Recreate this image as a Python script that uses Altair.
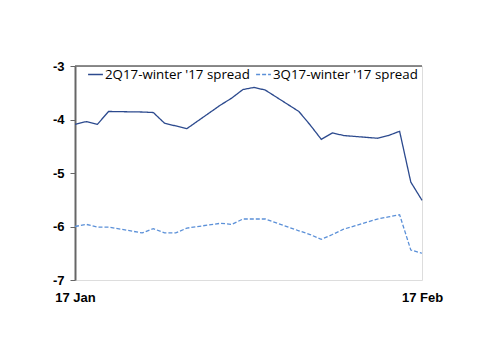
import altair as alt
import pandas as pd

dates = ["2017/01/17", "2017/01/18", "2017/01/19", "2017/01/20", "2017/01/23",
         "2017/01/24", "2017/01/25", "2017/01/26", "2017/01/27", "2017/01/30",
         "2017/01/31", "2017/02/01", "2017/02/02", "2017/02/03", "2017/02/06",
         "2017/02/07", "2017/02/08", "2017/02/09", "2017/02/10", "2017/02/13",
         "2017/02/14", "2017/02/15", "2017/02/16", "2017/02/17"]
s2q = [-4.09, -4.04, -4.09, -3.85, -3.86, -3.87, -4.07, -4.12, -4.17, -3.73,
       -3.60, -3.44, -3.40, -3.45, -3.85, -4.10, -4.37, -4.25, -4.30, -4.35,
       -4.30, -4.22, -5.17, -5.51]
s3q = [-6.00, -5.96, -6.01, -6.01, -6.12, -6.04, -6.12, -6.12, -6.03, -5.94,
       -5.96, -5.86, -5.86, -5.86, -6.08, -6.15, -6.24, -6.15, -6.05, -5.86,
       -5.82, -5.78, -6.44, -6.50]
series = ["2Q17-winter '17 spread", "3Q17-winter '17 spread"]
x_ticks = ["2017/01/17", "2017/02/17"]
y_domain = [-7, -3]
y_ticks = [-7, -6, -5, -4, -3]

rows = []
for d, a, b in zip(dates, s2q, s3q):
    rows.append({"date": d, "value": a, "series": series[0]})
    rows.append({"date": d, "value": b, "series": series[1]})
df = pd.DataFrame(rows)

FONT = "Liberation Sans"

y_axis = alt.Axis(values=y_ticks, title=None, grid=False,
                  labelExpr="replace(datum.label, '\u2212', '-')",
                  domainColor="#666", domainWidth=2, tickColor="#666",
                  tickSize=5, labelPadding=6, labelFont=FONT, labelFontSize=13,
                  labelFontWeight="bold", labelColor="#000")
y_scale = alt.Scale(domain=y_domain, nice=False, zero=False)

x_enc = alt.X("date:T", scale=alt.Scale(domain=[x_ticks[0], x_ticks[1]]),
              axis=alt.Axis(values=x_ticks, format="%d %b", title=None, domain=False,
                            ticks=False, grid=False, labelPadding=11, labelFlush=False,
                            labelFont=FONT, labelFontSize=13, labelFontWeight="bold",
                            labelColor="#000"))

lines = alt.Chart(df).mark_line(strokeWidth=1.3).encode(
    x=x_enc,
    y=alt.Y("value:Q", scale=y_scale, axis=y_axis),
    color=alt.Color("series:N", scale=alt.Scale(domain=series, range=["#2c4a8e", "#5b90d8"]),
                    legend=alt.Legend(title=None, orient="none", legendX=12, legendY=0,
                                      direction="horizontal", columns=2, symbolType="stroke",
                                      symbolSize=220, symbolStrokeWidth=1.5, labelOffset=1,
                                      columnPadding=3, labelFont="Open Sans", labelFontSize=13.3,
                                      labelColor="#000", labelLimit=300)),
    strokeDash=alt.StrokeDash("series:N", scale=alt.Scale(domain=series, range=[[1, 0], [4, 2]]),
                              legend=alt.Legend(title=None, orient="none", legendX=12, legendY=0,
                                                direction="horizontal", columns=2)),
)

top = alt.Chart(pd.DataFrame({"value": [y_domain[1]]})).mark_rule(color="#666", strokeWidth=1.5).encode(
    y=alt.Y("value:Q", scale=y_scale, axis=y_axis)
)

chart = alt.layer(lines, top).properties(
    width=347, height=214,
    autosize=alt.AutoSizeParams(type="none"),
    padding={"left": 75, "top": 66, "right": 78, "bottom": 74},
).configure_view(stroke=None).configure(background="white")

chart.save("out.html", embed_options={"renderer": "svg", "actions": False})
